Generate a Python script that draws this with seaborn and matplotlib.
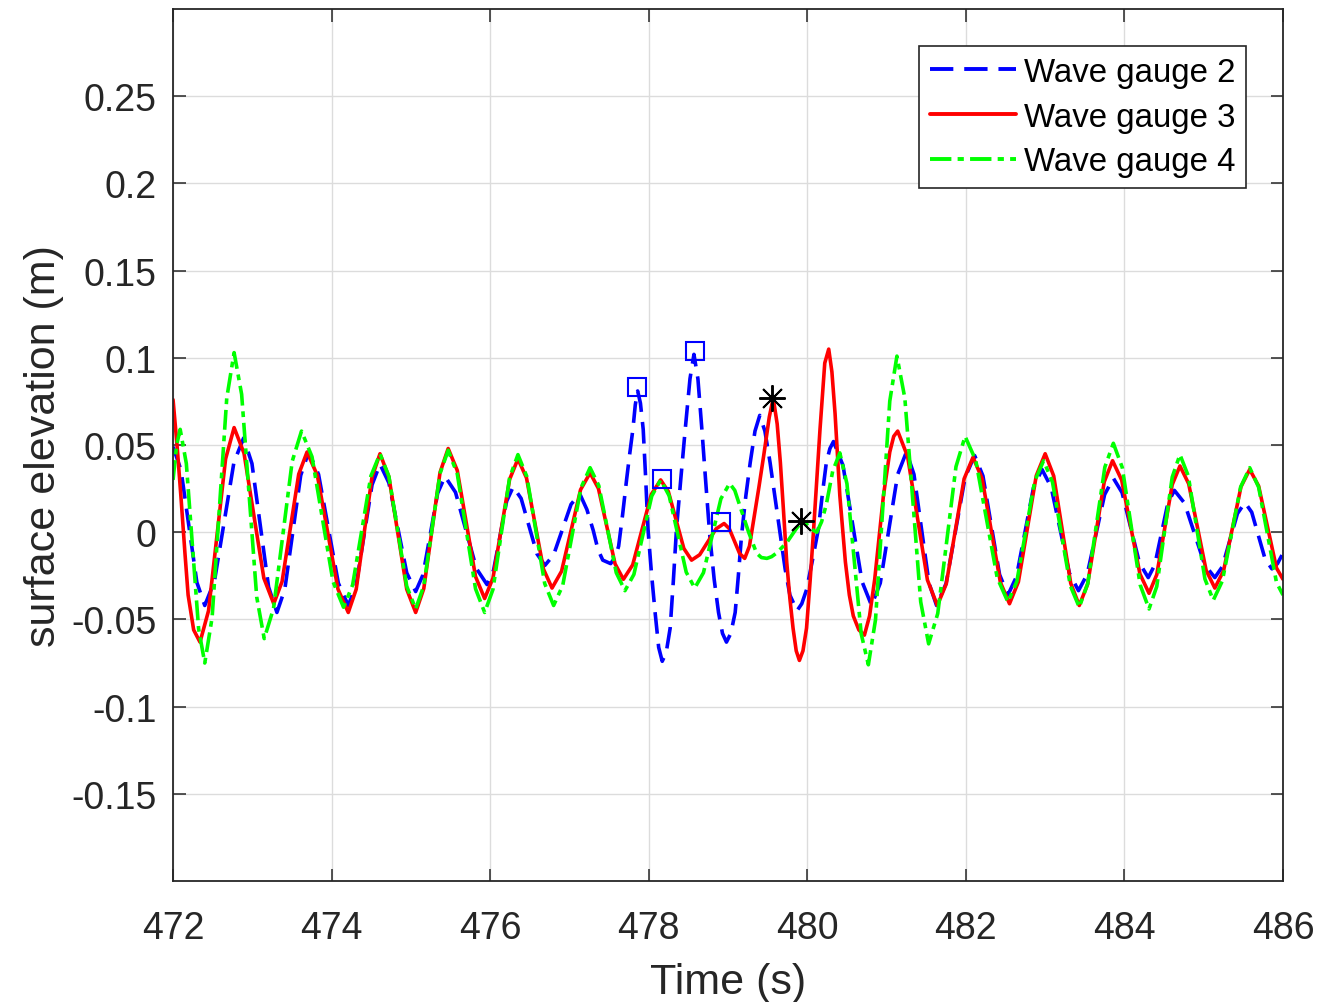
import numpy as np
import pandas as pd
import matplotlib
matplotlib.use("Agg")
import matplotlib.pyplot as plt
import seaborn as sns

# ---------------- data : (time s, elevation m) ----------------
gauge2_points = [
    (472.00, 0.049), (472.10, 0.0357), (472.20, 0.0035), (472.30, -0.0287), (472.40, -0.042),
    (472.5225, -0.028), (472.645, 0.006), (472.7675, 0.040), (472.89, 0.054),
    (472.995, 0.0394), (473.10, 0.004), (473.205, -0.0314), (473.31, -0.046),
    (473.41, -0.0326), (473.51, 0.000), (473.61, 0.0326), (473.71, 0.046),
    (473.835, 0.0332), (473.96, 0.002), (474.085, -0.0292), (474.21, -0.042),
    (474.31, -0.0302), (474.41, -0.0015), (474.51, 0.0272), (474.61, 0.039),
    (474.7225, 0.0283), (474.835, 0.0025), (474.9475, -0.0233), (475.06, -0.034),
    (475.1525, -0.0244), (475.245, -0.001), (475.3375, 0.0224), (475.43, 0.032),
    (475.5625, 0.0229), (475.695, 0.001), (475.8275, -0.0209), (475.96, -0.030),
    (476.0425, -0.0218), (476.125, -0.002), (476.2075, 0.0178), (476.29, 0.026),
    (476.39, 0.0194), (476.49, 0.0035), (476.59, -0.0124), (476.69, -0.019),
    (476.80, -0.013), (476.91, 0.0015), (477.02, 0.016), (477.13, 0.022),
    (477.22, 0.013), (477.30, 0.001), (477.36, -0.010), (477.42, -0.016), (477.52, -0.018),
    (477.58, -0.014), (477.62, -0.008), (477.67, 0.010), (477.72, 0.030), (477.76, 0.045),
    (477.80, 0.059), (477.83, 0.073), (477.86, 0.081), (477.895, 0.074), (477.93, 0.059),
    (477.96, 0.032), (477.99, 0.002), (478.035, -0.024), (478.08, -0.046), (478.125, -0.066),
    (478.17, -0.074), (478.22, -0.069), (478.27, -0.055), (478.31, -0.028), (478.35, 0.002),
    (478.405, 0.031), (478.46, 0.059), (478.52, 0.088), (478.57, 0.102), (478.62, 0.088),
    (478.67, 0.059), (478.72, 0.028), (478.77, -0.002), (478.825, -0.027), (478.88, -0.046),
    (478.93, -0.058), (478.98, -0.063), (479.035, -0.058), (479.09, -0.046), (479.13, -0.025),
    (479.17, -0.002), (479.225, 0.021), (479.28, 0.040), (479.34, 0.058), (479.40, 0.067),
    (479.465, 0.058), (479.53, 0.040), (479.595, 0.019), (479.66, -0.002), (479.72, -0.021),
    (479.78, -0.036), (479.87, -0.045), (479.93, -0.041), (479.99, -0.033), (480.065, -0.016),
    (480.14, 0.002), (480.19, 0.022), (480.24, 0.040), (480.285, 0.048), (480.33, 0.052),
    (480.45, 0.0383), (480.57, 0.005), (480.69, -0.0283), (480.81, -0.042),
    (480.92, -0.0292), (481.03, 0.002), (481.14, 0.0332), (481.25, 0.046),
    (481.345, 0.0332), (481.44, 0.002), (481.535, -0.0292), (481.63, -0.042),
    (481.75, -0.0294), (481.87, 0.001), (481.99, 0.0314), (482.11, 0.044),
    (482.215, 0.0323), (482.32, 0.004), (482.425, -0.0243), (482.53, -0.036),
    (482.6375, -0.0255), (482.745, 0.000), (482.8525, 0.0255), (482.96, 0.036),
    (483.075, 0.0259), (483.19, 0.0012), (483.305, -0.0234), (483.42, -0.0335),
    (483.53, -0.0241), (483.64, -0.0012), (483.75, 0.0216), (483.86, 0.031),
    (483.97, 0.0227), (484.08, 0.0025), (484.19, -0.0177), (484.30, -0.026),
    (484.3825, -0.0187), (484.465, -0.001), (484.5475, 0.0167), (484.63, 0.024),
    (484.7575, 0.0167), (484.885, -0.001), (485.0125, -0.0187), (485.14, -0.026),
    (485.235, -0.0197), (485.33, -0.0045), (485.425, 0.0107), (485.52, 0.017),
    (485.605, 0.0115), (485.69, -0.002), (485.775, -0.0155), (485.86, -0.021),
    (485.93, -0.018), (486.00, -0.012),
]

gauge3_points = [
    (472.00, 0.076), (472.05, 0.050), (472.10, 0.020), (472.15, -0.012), (472.19, -0.036),
    (472.26, -0.056), (472.34, -0.063),
    (472.4475, -0.045), (472.555, -0.0015), (472.6625, 0.042), (472.77, 0.060),
    (472.895, 0.0453), (473.02, 0.0095), (473.145, -0.0263), (473.27, -0.041),
    (473.375, -0.0283), (473.48, 0.0025), (473.585, 0.0333), (473.69, 0.046),
    (473.82, 0.0326), (473.95, 0.000), (474.08, -0.0326), (474.21, -0.046),
    (474.31, -0.0327), (474.41, -0.0005), (474.51, 0.0317), (474.61, 0.045),
    (474.7225, 0.0317), (474.835, -0.0005), (474.9475, -0.0327), (475.06, -0.046),
    (475.1625, -0.0323), (475.265, 0.001), (475.3675, 0.0343), (475.47, 0.048),
    (475.585, 0.0354), (475.70, 0.005), (475.815, -0.0254), (475.93, -0.038),
    (476.035, -0.0263), (476.14, 0.002), (476.245, 0.0303), (476.35, 0.042),
    (476.4575, 0.0312), (476.565, 0.005), (476.6725, -0.0212), (476.78, -0.032),
    (476.90, -0.0224), (477.02, 0.001), (477.14, 0.0244), (477.26, 0.034),
    (477.365, 0.0251), (477.47, 0.0035), (477.575, -0.0181), (477.68, -0.027),
    (477.7975, -0.0187), (477.915, 0.0015), (478.0325, 0.0217), (478.15, 0.030),
    (478.2475, 0.0233), (478.345, 0.007), (478.4425, -0.0093), (478.54, -0.016),
    (478.6425, -0.0129), (478.745, -0.0055), (478.8475, 0.0019), (478.95, 0.005),
    (479.015, 0.0021), (479.08, -0.005), (479.145, -0.0121), (479.21, -0.015),
    (479.27, -0.008), (479.33, 0.009), (479.39, 0.026), (479.45, 0.044), (479.52, 0.066),
    (479.57, 0.077), (479.62, 0.062), (479.66, 0.040), (479.70, 0.012), (479.74, -0.017),
    (479.78, -0.038), (479.82, -0.055), (479.86, -0.068), (479.90, -0.0735), (479.945, -0.068),
    (479.99, -0.055), (480.035, -0.028), (480.08, 0.002), (480.12, 0.031), (480.16, 0.059),
    (480.22, 0.097), (480.27, 0.105), (480.31, 0.092), (480.35, 0.068), (480.41, 0.021),
    (480.48, -0.017), (480.53, -0.036), (480.58, -0.048), (480.65, -0.056), (480.72, -0.059),
    (480.785, -0.048), (480.85, -0.027), (480.96, 0.021), (481.04, 0.046), (481.09, 0.055),
    (481.14, 0.058),
    (481.265, 0.0434), (481.39, 0.008), (481.515, -0.0274), (481.64, -0.042),
    (481.7525, -0.0296), (481.865, 0.0005), (481.9775, 0.0306), (482.09, 0.043),
    (482.205, 0.0307), (482.32, 0.001), (482.435, -0.0287), (482.55, -0.041),
    (482.6625, -0.0284), (482.775, 0.002), (482.8875, 0.0324), (483.00, 0.045),
    (483.1075, 0.0323), (483.215, 0.0015), (483.3225, -0.0293), (483.43, -0.042),
    (483.535, -0.0299), (483.64, -0.0005), (483.745, 0.0289), (483.85, 0.041),
    (483.965, 0.0299), (484.08, 0.003), (484.195, -0.0239), (484.31, -0.035),
    (484.4075, -0.0243), (484.505, 0.0015), (484.6025, 0.0273), (484.70, 0.038),
    (484.81, 0.0278), (484.92, 0.003), (485.03, -0.0218), (485.14, -0.032),
    (485.25, -0.0221), (485.36, 0.002), (485.47, 0.0261), (485.58, 0.036),
    (485.6925, 0.0265), (485.805, 0.003), (485.9175, -0.0205), (486.00, -0.027),
]

gauge4_points = [
    (472.00, 0.030), (472.045, 0.050), (472.09, 0.059),
    (472.1675, 0.0394), (472.245, -0.008), (472.3225, -0.0554), (472.40, -0.075),
    (472.4925, -0.049), (472.585, 0.014), (472.6775, 0.077), (472.77, 0.103),
    (472.865, 0.0791), (472.96, 0.021), (473.055, -0.0371), (473.15, -0.061),
    (473.2675, -0.0436), (473.385, -0.0015), (473.5025, 0.0406), (473.62, 0.058),
    (473.7525, 0.0433), (473.885, 0.0075), (474.0175, -0.0283), (474.15, -0.043),
    (474.265, -0.0302), (474.38, 0.001), (474.495, 0.0322), (474.61, 0.045),
    (474.7225, 0.032), (474.835, 0.0005), (474.9475, -0.031), (475.06, -0.044),
    (475.1625, -0.0307), (475.265, 0.0015), (475.3675, 0.0337), (475.47, 0.047),
    (475.585, 0.0334), (475.70, 0.0005), (475.815, -0.0324), (475.93, -0.046),
    (476.035, -0.0328), (476.14, -0.0007), (476.245, 0.0313), (476.35, 0.0445),
    (476.4625, 0.0319), (476.575, 0.0012), (476.6875, -0.0294), (476.80, -0.042),
    (476.915, -0.0305), (477.03, -0.0025), (477.145, 0.0255), (477.26, 0.037),
    (477.37, 0.0267), (477.48, 0.0017), (477.59, -0.0232), (477.70, -0.0335),
    (477.8125, -0.0242), (477.925, -0.0017), (478.0375, 0.0207), (478.15, 0.030),
    (478.2575, 0.0209), (478.365, -0.001), (478.4725, -0.0229), (478.58, -0.032),
    (478.69, -0.0232), (478.80, -0.002), (478.91, 0.0192), (479.02, 0.028),
    (479.085, 0.024), (479.15, 0.015), (479.26, 0.000), (479.36, -0.012), (479.42, -0.0145),
    (479.49, -0.015), (479.55, -0.014), (479.61, -0.012), (479.74, -0.006), (479.86, 0.002),
    (479.93, 0.006), (479.98, 0.005), (480.03, 0.003), (480.08, 0.001), (480.12, 0.000),
    (480.18, 0.006), (480.24, 0.016), (480.32, 0.035), (480.41, 0.0455),
    (480.50, 0.0278), (480.59, -0.0153), (480.68, -0.0583), (480.77, -0.076),
    (480.86, -0.0502), (480.95, 0.0125), (481.04, 0.0752), (481.13, 0.101),
    (481.23, 0.0769), (481.33, 0.0185), (481.43, -0.0399), (481.53, -0.064),
    (481.645, -0.0466), (481.76, -0.0045), (481.875, 0.0376), (481.99, 0.055),
    (482.125, 0.0411), (482.26, 0.0075), (482.395, -0.0261), (482.53, -0.040),
    (482.6425, -0.0282), (482.755, 0.0005), (482.8675, 0.0292), (482.98, 0.041),
    (483.0925, 0.0287), (483.205, -0.001), (483.3175, -0.0307), (483.43, -0.043),
    (483.5375, -0.0293), (483.645, 0.004), (483.7525, 0.0373), (483.86, 0.051),
    (483.9725, 0.0371), (484.085, 0.0035), (484.1975, -0.0301), (484.31, -0.044),
    (484.4075, -0.0311), (484.505, 0.0003), (484.6025, 0.0316), (484.70, 0.0445),
    (484.805, 0.0323), (484.91, 0.0027), (485.015, -0.0268), (485.12, -0.039),
    (485.235, -0.0279), (485.35, -0.001), (485.465, 0.0259), (485.58, 0.037),
    (485.6925, 0.0258), (485.805, -0.0015), (485.9175, -0.0288), (486.00, -0.036),
]

series_names = ["Wave gauge 2", "Wave gauge 3", "Wave gauge 4"]

# marked points
square_t = [477.85, 478.17, 478.58, 478.91]
square_eta = [0.0834, 0.0303, 0.104, 0.0057]
star_t = [479.555, 479.92]
star_eta = [0.0771, 0.0063]

x_ticks = [472, 474, 476, 478, 480, 482, 484, 486]
y_ticks = [-0.15, -0.1, -0.05, 0, 0.05, 0.1, 0.15, 0.2, 0.25]
y_tick_labels = ["-0.15", "-0.1", "-0.05", "0", "0.05", "0.1", "0.15", "0.2", "0.25"]

# ---------------- build long-form table ----------------
frames = []
for name, pts in zip(series_names, [gauge2_points, gauge3_points, gauge4_points]):
    frames.append(pd.DataFrame({"t": [p[0] for p in pts],
                                "eta": [p[1] for p in pts],
                                "gauge": name}))
df = pd.concat(frames, ignore_index=True)

sns.set_theme(style="whitegrid")
plt.rcParams["font.family"] = ["Liberation Sans", "DejaVu Sans"]

fig = plt.figure(figsize=(13.17, 10.03), dpi=100)
ax = fig.add_axes([0.1314, 0.1206, 0.8428, 0.8694])
ax.set_facecolor("white")

palette = {series_names[0]: "#0000ff", series_names[1]: "#ff0000", series_names[2]: "#00ff00"}
dashes = {series_names[0]: (6, 2.8), series_names[1]: "", series_names[2]: (5.5, 1.6, 1.6, 1.6)}

sns.lineplot(data=df, x="t", y="eta", hue="gauge", style="gauge",
             hue_order=series_names, style_order=series_names,
             palette=palette, dashes=dashes, linewidth=2.6,
             estimator=None, sort=True, ax=ax)

ax.plot(square_t, square_eta, linestyle="none", marker="s", markersize=12.5,
        markerfacecolor="none", markeredgecolor="#0000ff", markeredgewidth=1.5, zorder=5)
ax.plot(star_t, star_eta, linestyle="none", marker=(8, 2, 0), markersize=19,
        markeredgecolor="black", color="black", markeredgewidth=1.4, zorder=5)

ax.set_xlim(472, 486)
ax.set_ylim(-0.2, 0.3)
ax.set_xticks(x_ticks)
ax.set_xticklabels([str(v) for v in x_ticks])
ax.set_yticks(y_ticks)
ax.set_yticklabels(y_tick_labels)

ax.grid(True, color="#dcdcdc", linewidth=1.0)
for s in ax.spines.values():
    s.set_visible(True)
    s.set_color("#262626")
    s.set_linewidth(1.3)

ax.tick_params(axis="both", direction="in", length=9, width=1.1, color="#262626",
               labelsize=27, labelcolor="#262626", top=True, right=True,
               bottom=True, left=True)
ax.tick_params(axis="x", pad=20.5)
ax.tick_params(axis="y", pad=12)

ax.set_xlabel("Time (s)", fontsize=31, color="#262626", labelpad=12)
ax.set_ylabel("surface elevation (m)", fontsize=31, color="#262626", labelpad=5)

handles, labels = ax.get_legend_handles_labels()
keep = [(h, l) for h, l in zip(handles, labels) if l in series_names]
for h, _ in keep:
    h.set_linewidth(2.8)
leg = ax.legend([h for h, _ in keep], [l for _, l in keep],
                loc="upper right", bbox_to_anchor=(0.9667, 0.9575), borderaxespad=0,
                fontsize=23.8, frameon=True, fancybox=False, framealpha=1,
                edgecolor="#262626", handlelength=2.6, handletextpad=0.25,
                labelspacing=0.42, borderpad=0.32)
leg.get_frame().set_linewidth(1.2)
for txt in leg.get_texts():
    txt.set_color("black")

fig.savefig("out.png", dpi=100, facecolor="white")
